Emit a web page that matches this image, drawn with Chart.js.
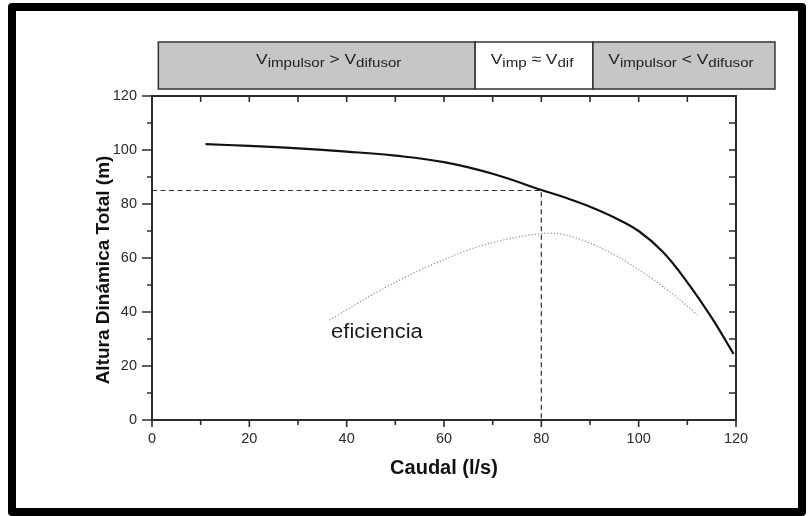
<!DOCTYPE html>
<html>
<head>
<meta charset="utf-8">
<script src="https://cdn.jsdelivr.net/npm/chart.js@4.4.1/dist/chart.umd.min.js"></script>
<style>
  html, body { margin: 0; padding: 0; background: #fff; }
  #wrap { position: relative; width: 809px; height: 516px; }
  #frame {
    position: absolute; left: 8px; top: 3px; width: 782px; height: 497px;
    border: 8px solid #000; border-radius: 4px; pointer-events: none;
  }
</style>
</head>
<body>
<div id="wrap">
  <canvas id="curva" width="809" height="516"></canvas>
  <div id="frame"></div>
</div>
<script>
// pump curve: total head vs flow
const flowHead = [11, 20, 30, 40, 50, 60, 70, 80, 85, 90, 95, 100, 105, 110, 115, 119.5];
const head = [102.2, 101.5, 100.6, 99.4, 97.9, 95.5, 91.2, 85.2, 82.3, 79.0, 75.0, 70.0, 62.2, 51.0, 37.9, 24.5];

// efficiency curve (same vertical scale, no own axis)
const flowEff = [36.5, 40, 45, 50, 55, 60, 65, 70, 75, 80, 82, 85, 90, 95, 100, 105, 110, 112];
const eff = [37.0, 40.8, 46.1, 51.0, 55.5, 59.4, 63.0, 65.7, 67.7, 69.0, 69.2, 68.5, 65.5, 61.2, 55.7, 49.4, 42.2, 39.0];

// operating point
const dutyFlow = 80;
const dutyHead = 85;

// zones drawn above the plot (edges in l/s)
const bandEdges = [1.3, 66.4, 90.6, 128];
const bandLabels = [
  [['V', 'impulsor'], ' > ', ['V', 'difusor']],
  [['V', 'imp'], ' \u2248 ', ['V', 'dif']],
  [['V', 'impulsor'], ' < ', ['V', 'difusor']]
];
const bandFill = ['#c6c6c6', '#ffffff', '#c6c6c6'];
const bandTextShift = [12, -2, -3];

const xTicks = [0, 20, 40, 60, 80, 100, 120];
const yTicks = [0, 20, 40, 60, 80, 100, 120];

const effLabel = { text: 'eficiencia', x: 36.8, y: 30.4 };
const yTitle = 'Altura Din\u00e1mica Total (m)';

const FONT = "'Liberation Sans', Arial, Helvetica, sans-serif";

const axisBox = {
  id: 'axisBox',
  afterDatasetsDraw(chart) {
    const { ctx, chartArea: a, scales: { x, y } } = chart;
    ctx.save();
    ctx.strokeStyle = '#2b2b2b';
    ctx.lineWidth = 2;
    ctx.strokeRect(a.left, a.top, a.right - a.left, a.bottom - a.top);
    ctx.lineWidth = 1.6;
    ctx.beginPath();
    for (let v = 0; v <= 120; v += 10) {
      const major = v % 20 === 0;
      const px = x.getPixelForValue(v);
      // bottom, outward
      ctx.moveTo(px, a.bottom);
      ctx.lineTo(px, a.bottom + (major ? 7 : 5));
      // top, inward
      if (v > 0 && v < 120) {
        ctx.moveTo(px, a.top);
        ctx.lineTo(px, a.top + 6);
      }
      const py = y.getPixelForValue(v);
      // left, outward
      ctx.moveTo(a.left, py);
      ctx.lineTo(a.left - (major ? 10 : 5), py);
      // right, inward
      if (v > 0 && v < 120) {
        ctx.moveTo(a.right, py);
        ctx.lineTo(a.right - 7, py);
      }
    }
    ctx.stroke();

    // label on the efficiency curve (slightly wide lettering like the original)
    ctx.fillStyle = '#1a1a1a';
    ctx.font = '20px ' + FONT;
    ctx.textBaseline = 'alphabetic';
    ctx.textAlign = 'left';
    ctx.save();
    ctx.translate(x.getPixelForValue(effLabel.x), y.getPixelForValue(effLabel.y));
    ctx.scale(1.1, 1);
    ctx.fillText(effLabel.text, 0, 0);
    ctx.restore();

    // vertical axis title
    ctx.save();
    ctx.translate(104, (a.top + a.bottom) / 2 + 12);
    ctx.rotate(-Math.PI / 2);
    ctx.font = 'bold 19px ' + FONT;
    ctx.fillStyle = '#111';
    ctx.textAlign = 'center';
    ctx.textBaseline = 'middle';
    ctx.fillText(yTitle, 0, 0);
    ctx.restore();
    ctx.restore();
  },
  afterDraw(chart) {
    const { ctx, chartArea: a, scales: { x } } = chart;
    const top = a.top - 54, bottom = a.top - 7;
    const stretch = 1.16;
    ctx.save();
    for (let i = 0; i < bandLabels.length; i++) {
      const l = x.getPixelForValue(bandEdges[i]);
      const r = x.getPixelForValue(bandEdges[i + 1]);
      ctx.fillStyle = bandFill[i];
      ctx.fillRect(l, top, r - l, bottom - top);
      ctx.strokeStyle = '#333';
      ctx.lineWidth = 1.5;
      ctx.strokeRect(l, top, r - l, bottom - top);

      // text with subscripts
      const parts = bandLabels[i];
      const big = '15px ' + FONT, small = '13px ' + FONT;
      let w = 0;
      parts.forEach(p => {
        if (Array.isArray(p)) {
          ctx.font = big; w += ctx.measureText(p[0]).width;
          ctx.font = small; w += ctx.measureText(p[1]).width;
        } else {
          ctx.font = big; w += ctx.measureText(p).width;
        }
      });
      ctx.save();
      ctx.translate((l + r) / 2 - w * stretch / 2 + bandTextShift[i], top + 21.5);
      ctx.scale(stretch, 1);
      let cx = 0;
      ctx.fillStyle = '#1e1e1e';
      ctx.textBaseline = 'alphabetic';
      ctx.textAlign = 'left';
      parts.forEach(p => {
        if (Array.isArray(p)) {
          ctx.font = big; ctx.fillText(p[0], cx, 0); cx += ctx.measureText(p[0]).width;
          ctx.font = small; ctx.fillText(p[1], cx, 3); cx += ctx.measureText(p[1]).width;
        } else {
          ctx.font = big; ctx.fillText(p, cx, 0); cx += ctx.measureText(p).width;
        }
      });
      ctx.restore();
    }
    ctx.restore();
  }
};

const ctx = document.getElementById('curva').getContext('2d');
new Chart(ctx, {
  type: 'line',
  data: {
    datasets: [
      {
        label: 'Altura',
        data: flowHead.map((q, i) => ({ x: q, y: head[i] })),
        borderColor: '#111',
        borderWidth: 2.2,
        pointRadius: 0,
        tension: 0.4,
        fill: false
      },
      {
        label: 'eficiencia',
        data: flowEff.map((q, i) => ({ x: q, y: eff[i] })),
        borderColor: '#8c8c8c',
        borderWidth: 1.2,
        borderDash: [1.2, 2],
        pointRadius: 0,
        cubicInterpolationMode: 'monotone',
        fill: false
      },
      {
        label: 'punto',
        data: [{ x: 0, y: dutyHead }, { x: dutyFlow, y: dutyHead }, { x: dutyFlow, y: 0 }],
        borderColor: '#333',
        borderWidth: 1.2,
        borderDash: [5, 3.5],
        pointRadius: 0,
        tension: 0,
        fill: false
      }
    ]
  },
  options: {
    responsive: false,
    animation: false,
    layout: { padding: { left: 0, top: 96, right: 73, bottom: 0 } },
    plugins: { legend: { display: false }, tooltip: { enabled: false } },
    scales: {
      x: {
        type: 'linear',
        min: 0,
        max: 120,
        afterFit: s => { s.height = 96; },
        afterBuildTicks: s => { s.ticks = xTicks.map(v => ({ value: v })); },
        grid: { display: false, drawTicks: false },
        border: { display: false },
        ticks: { padding: 10, color: '#2a2a2a', font: { family: FONT, size: 14.5 } },
        title: {
          display: true,
          text: 'Caudal (l/s)',
          color: '#111',
          font: { family: FONT, size: 20, weight: 'bold' },
          padding: { top: 0, bottom: 36 }
        }
      },
      y: {
        type: 'linear',
        min: 0,
        max: 120,
        afterFit: s => { s.width = 152; },
        afterBuildTicks: s => { s.ticks = yTicks.map(v => ({ value: v })); },
        grid: { display: false, drawTicks: false },
        border: { display: false },
        ticks: { padding: 15, color: '#2a2a2a', font: { family: FONT, size: 14.5 } },
        title: { display: false }
      }
    }
  },
  plugins: [axisBox]
});
</script>
</body>
</html>
